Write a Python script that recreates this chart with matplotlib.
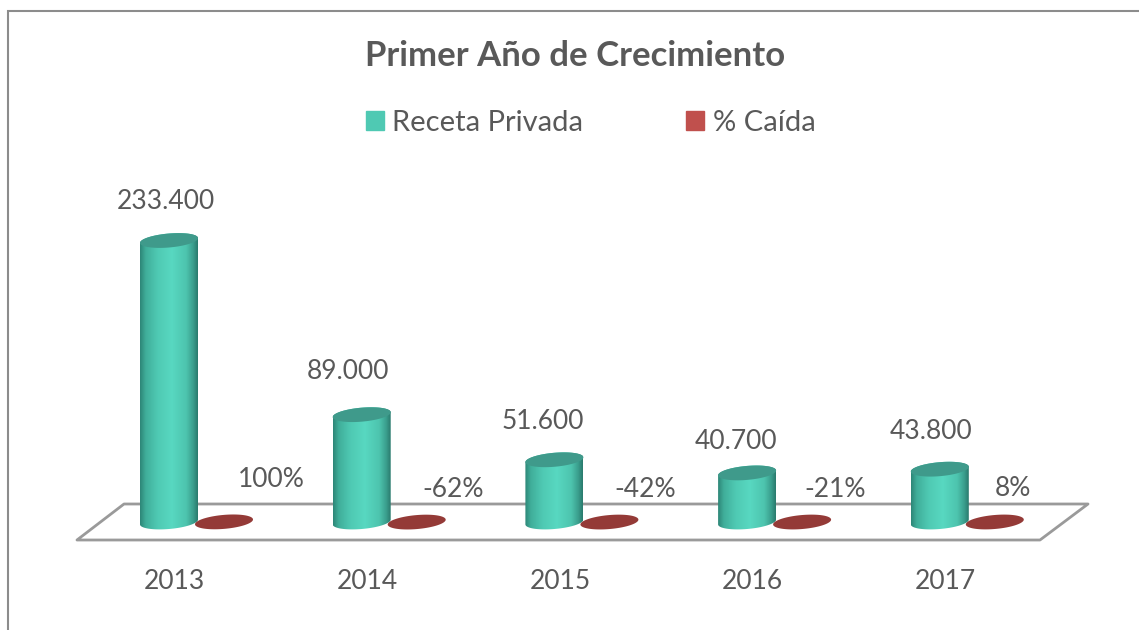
"""Primer Ano de Crecimiento - 3D style cylinder chart."""
import matplotlib
matplotlib.use("Agg")
import matplotlib.pyplot as plt
import numpy as np
from matplotlib.colors import LinearSegmentedColormap
from matplotlib.patches import Patch, PathPatch, Polygon
from matplotlib.path import Path

plt.rcParams['font.family'] = ['Lato', 'DejaVu Sans']

years = ['2013', '2014', '2015', '2016', '2017']
receta = [233400, 89000, 51600, 40700, 43800]
caida = [100, -62, -42, -21, 8]
receta_labels = ['233.400', '89.000', '51.600', '40.700', '43.800']
caida_labels = ['100%', '-62%', '-42%', '-21%', '8%']

W, H = 1139, 630
BASE_PX = 522       # pixel row of the value axis zero
FIRST_PX = 174.5    # pixel column of first category
STEP_PX = 192.7
PX_PER_UNIT = 281.5 / 233400

TEXT = '#595959'
GRAY = '#9a9a9a'

fig = plt.figure(figsize=(W / 100, H / 100), dpi=100, facecolor='white')

# overlay in pixel coordinates for frame and floor
bg = fig.add_axes([0, 0, 1, 1], zorder=0)
bg.set_xlim(0, W)
bg.set_ylim(H, 0)
bg.axis('off')
bg.plot([7.5, 7.5, W], [H, 11, 11], color='#8c8c8c', lw=1.5, solid_joinstyle='miter')
bg.add_patch(Polygon([(77, 540), (124, 504), (1088, 504), (1040, 540)], closed=True,
                     fc='none', ec=GRAY, lw=2, joinstyle='round'))

# data axes: bottom edge sits on the zero line
ax = fig.add_axes([0, 1 - BASE_PX / H, 1, BASE_PX / H], zorder=1)
ax.patch.set_alpha(0)
xlim = (-FIRST_PX / STEP_PX, (W - FIRST_PX) / STEP_PX)
ylim = (0, BASE_PX / PX_PER_UNIT)
for s in ax.spines.values():
    s.set_visible(False)
ax.set_yticks([])
x = np.arange(len(years))
ax.set_xticks(x, years, fontsize=19, color=TEXT)
ax.tick_params(axis='x', length=0, pad=34)

cmap = LinearSegmentedColormap.from_list('cyl', [
    (0.0, '#2d8677'), (0.1, '#40ae9a'), (0.3, '#4fc9b3'), (0.55, '#58d8c1'),
    (0.8, '#4dc4ae'), (0.92, '#3a9e8d'), (1.0, '#2a7a6d')])
grad = np.linspace(0, 1, 256).reshape(1, -1)

half_w = 29 / STEP_PX
rad_y = 7 / PX_PER_UNIT
tilt = 2.4 / PX_PER_UNIT
t = np.linspace(0, 2 * np.pi, 121)
TEAL_OFFSET = -5.5 / STEP_PX
RED_OFFSET = 49.5 / STEP_PX


def ellipse_xy(cx, cy):
    return cx + half_w * np.cos(t), cy + rad_y * np.sin(t) + tilt * np.cos(t)


for xi, val in zip(x + TEAL_OFFSET, receta):
    # body outline: front half of base ellipse, up the side, top ellipse
    tx, ty = ellipse_xy(xi, val)
    lower = t[:61] + np.pi
    low_x = xi + half_w * np.cos(lower)
    low_y = rad_y * np.sin(lower) + tilt * np.cos(lower)
    up = t[:61]
    up_x = xi + half_w * np.cos(up)
    up_y = val + rad_y * np.sin(up) + tilt * np.cos(up)
    body = Path(np.column_stack([np.r_[low_x, up_x], np.r_[low_y, up_y]]))
    clip = PathPatch(body, transform=ax.transData, fc='none', ec='none')
    im = ax.imshow(grad, cmap=cmap, aspect='auto', zorder=3,
                   extent=(xi - half_w, xi + half_w, -2 * rad_y, val + 2 * rad_y))
    im.set_clip_box(fig.bbox)
    im.set_clip_path(clip)
    ax.fill(tx, ty, color='#3f9a8b', lw=0, zorder=4)

# second series is in percent units, so it is flat on this scale
for xi, val in zip(x, caida):
    ex, ey = ellipse_xy(xi + RED_OFFSET, val)
    ax.fill(ex, ey, color='#943a37', lw=0, zorder=5, clip_on=False)

ax.set_xlim(*xlim)
ax.set_ylim(*ylim)

# data labels, manually shifted in the original (pixels from the mark)
receta_shift = [(-3, 39), (-14, 43), (-12, 38), (-11, 31), (-8.5, 38)]
for xi, val, lab, (dx, dy) in zip(x + TEAL_OFFSET, receta, receta_labels, receta_shift):
    ax.annotate(lab, (xi, val), xytext=(dx * 0.72, dy * 0.72), textcoords='offset points',
                ha='center', va='center', fontsize=19, color=TEXT, zorder=6)

caida_shift = [(47, 42), (36, 33), (36, 33), (33.5, 33), (18, 33)]
for xi, val, lab, (dx, dy) in zip(x, caida, caida_labels, caida_shift):
    ax.annotate(lab, (xi + RED_OFFSET, val), xytext=(dx * 0.72, dy * 0.72),
                textcoords='offset points', ha='center', va='center',
                fontsize=19, color=TEXT, zorder=6)

fig.text(575 / W, 1 - 56.5 / H, 'Primer Año de Crecimiento', ha='center', va='center',
         fontsize=25, fontweight='bold', color=TEXT)

handles = [Patch(color='#4fc9b3', label='Receta Privada'), Patch(color='#c0504d', label='% Caída')]
fig.legend(handles=handles, loc='center', bbox_to_anchor=(590.5 / W, 1 - 123 / H), ncol=2,
           frameon=False, fontsize=21, labelcolor=TEXT, handlelength=0.62, handleheight=0.62,
           handletextpad=0.28, columnspacing=3.55)

fig.savefig('out.png', dpi=100)
